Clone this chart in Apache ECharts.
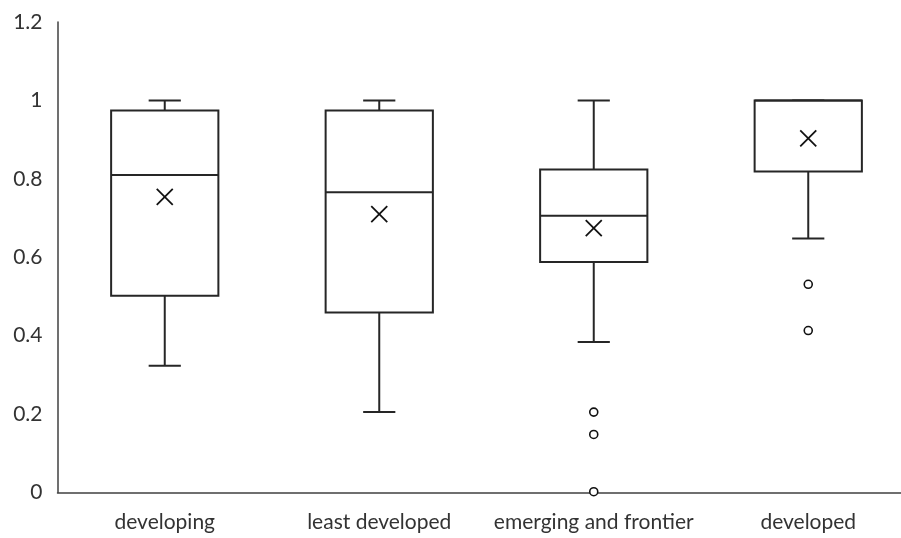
<!DOCTYPE html>
<html><head><meta charset="utf-8">
<script src="https://cdn.jsdelivr.net/npm/echarts@6/dist/echarts.min.js"></script>
<style>html,body{margin:0;padding:0;background:#fff}#c{width:901px;height:538px}</style>
</head><body><div id="c"></div>
<script>
var categories = ['developing', 'least developed', 'emerging and frontier', 'developed'];
var whiskerMin = [0.323, 0.205, 0.384, 0.648];
var q1Values   = [0.502, 0.459, 0.588, 0.819];
var medians    = [0.810, 0.766, 0.706, 1.000];
var q3Values   = [0.974, 0.974, 0.824, 1.000];
var whiskerMax = [1.000, 1.000, 1.000, 1.000];
var means      = [0.754, 0.710, 0.674, 0.903];
var outliers   = [[2, 0.205], [2, 0.148], [2, 0.002], [3, 0.531], [3, 0.413]];
var yTicks = [0, 0.2, 0.4, 0.6, 0.8, 1, 1.2];

var boxData = categories.map(function(c, i){
  return [i, whiskerMin[i], q1Values[i], medians[i], q3Values[i], whiskerMax[i]];
});
var meanData = categories.map(function(c, i){ return [i, means[i]]; });

var LINE = '#262626';
var chart = echarts.init(document.getElementById('c'));
chart.setOption({
  animation: false,
  grid: { left: 57.5, width: 858, top: 22, height: 470.5, containLabel: false, outerBoundsMode: 'none' },
  xAxis: {
    type: 'category', data: categories,
    axisLine: { show: true, lineStyle: { color: '#404040', width: 1.5 } },
    axisTick: { show: false },
    axisLabel: { color: '#333', fontFamily: 'Lato', fontSize: 21, margin: 19, interval: 0, hideOverlap: false },
    splitLine: { show: false }
  },
  yAxis: {
    type: 'value', min: 0, max: 1.2, interval: 0.2,
    axisLine: { show: true, lineStyle: { color: '#404040', width: 1.5 } },
    axisTick: { show: false },
    splitLine: { show: false },
    axisLabel: { color: '#333', fontFamily: 'Lato', fontSize: 21, margin: 15 }
  },
  series: [
    {
      type: 'custom',
      data: boxData,
      encode: { x: 0, y: [1, 2, 3, 4, 5] },
      renderItem: function(params, api){
        var x = api.value(0);
        var pMin = api.coord([x, api.value(1)]);
        var pQ1 = api.coord([x, api.value(2)]);
        var pMed = api.coord([x, api.value(3)]);
        var pQ3 = api.coord([x, api.value(4)]);
        var pMax = api.coord([x, api.value(5)]);
        var band = api.size([1, 0])[0];
        var bw = band * 0.5, cw = band * 0.15;
        var cx = pMin[0];
        var st = { stroke: LINE, lineWidth: 2, fill: null };
        return {
          type: 'group',
          children: [
            { type: 'line', shape: { x1: cx, y1: pMin[1], x2: cx, y2: pQ1[1] }, style: st },
            { type: 'line', shape: { x1: cx - cw/2, y1: pMin[1], x2: cx + cw/2, y2: pMin[1] }, style: st },
            { type: 'line', shape: { x1: cx, y1: pQ3[1], x2: cx, y2: pMax[1] }, style: st },
            { type: 'line', shape: { x1: cx - cw/2, y1: pMax[1], x2: cx + cw/2, y2: pMax[1] }, style: st },
            { type: 'rect', shape: { x: cx - bw/2, y: pQ3[1], width: bw, height: pQ1[1] - pQ3[1] }, style: { stroke: LINE, lineWidth: 2, fill: '#fff' } },
            { type: 'line', shape: { x1: cx - bw/2, y1: pMed[1], x2: cx + bw/2, y2: pMed[1] }, style: st }
          ]
        };
      },
      z: 2
    },
    {
      type: 'custom',
      data: meanData,
      encode: { x: 0, y: 1 },
      renderItem: function(params, api){
        var p = api.coord([api.value(0), api.value(1)]);
        var h = 8;
        var st = { stroke: '#111', lineWidth: 1.8 };
        return {
          type: 'group',
          children: [
            { type: 'line', shape: { x1: p[0]-h, y1: p[1]-h, x2: p[0]+h, y2: p[1]+h }, style: st },
            { type: 'line', shape: { x1: p[0]-h, y1: p[1]+h, x2: p[0]+h, y2: p[1]-h }, style: st }
          ]
        };
      },
      z: 3
    },
    {
      type: 'scatter',
      data: outliers,
      symbol: 'circle', symbolSize: 8,
      itemStyle: { color: '#fff', borderColor: '#111', borderWidth: 1.6, opacity: 1 },
      z: 4
    }
  ]
});
</script>
</body></html>
